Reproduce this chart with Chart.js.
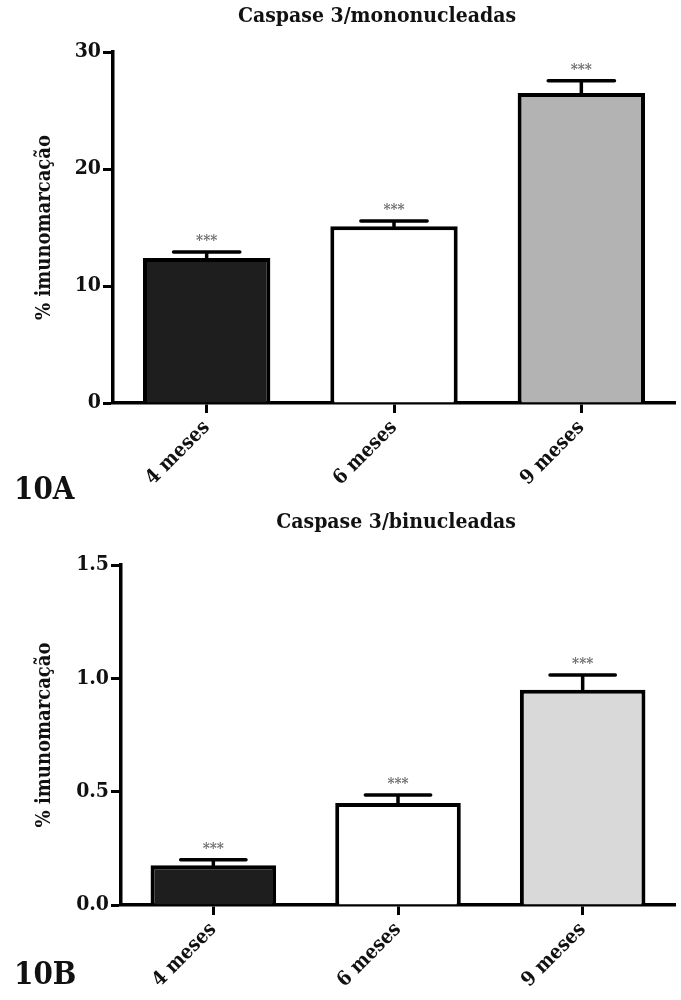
<!DOCTYPE html>
<html>
<head>
<meta charset="utf-8">
<script src="https://cdn.jsdelivr.net/npm/chart.js@4.4.1/dist/chart.umd.min.js"></script>
<style>
  body { margin: 0; background: #fff; }
  #page { position: relative; width: 681px; height: 1000px; font-family: "DejaVu Serif Condensed", "Liberation Serif", serif; font-weight: bold; color: #111; }
  .box { position: absolute; left: 0; width: 681px; height: 500px; }
  .titulo { position: absolute; width: 400px; text-align: center; font-size: 21px; white-space: nowrap; }
  .panel { position: absolute; font-size: 31px; }
</style>
</head>
<body>
<div id="page">
  <div class="box" style="top:0"><canvas id="chartA"></canvas></div>
  <div class="box" style="top:500px"><canvas id="chartB"></canvas></div>
  <div class="titulo" style="left:177px; top:2px">Caspase 3/mononucleadas</div>
  <div class="titulo" style="left:196px; top:508px">Caspase 3/binucleadas</div>
  <div class="panel" style="left:14px; top:470px">10A</div>
  <div class="panel" style="left:14px; top:955px">10B</div>
</div>
<script>
// datos
const categorias = ['4 meses', '6 meses', '9 meses'];
const mononucleadas = [12.4, 15.1, 26.5];
const errMono = [0.5, 0.45, 1.05];
const binucleadas = [0.175, 0.45, 0.95];
const errBi = [0.025, 0.035, 0.065];
const signif = ['***', '***', '***'];
const ticksA = [0, 10, 20, 30];
const ticksB = [0, 0.5, 1.0, 1.5];

const fuente = "'DejaVu Serif Condensed', 'Liberation Serif', serif";

// plugin para dibujar las barras de error y los asteriscos
const errorBars = {
  id: 'errorBars',
  afterDatasetsDraw(chart, args, opts) {
    const ctx = chart.ctx;
    const meta = chart.getDatasetMeta(0);
    const y = chart.scales.y;
    ctx.save();
    meta.data.forEach((bar, i) => {
      const v = chart.data.datasets[0].data[i];
      const top = y.getPixelForValue(v + opts.err[i]);
      const half = bar.width * 0.26;
      ctx.strokeStyle = '#000';
      ctx.lineWidth = 3.5;
      ctx.lineCap = 'round';
      ctx.beginPath();
      ctx.moveTo(bar.x, bar.y);
      ctx.lineTo(bar.x, top);
      ctx.moveTo(bar.x - half, top);
      ctx.lineTo(bar.x + half, top);
      ctx.stroke();
      ctx.fillStyle = '#6e6e6e';
      ctx.font = 'bold 15px ' + fuente;
      ctx.textAlign = 'center';
      ctx.textBaseline = 'bottom';
      ctx.fillText(signif[i], bar.x, top - 3);
    });
    ctx.restore();
  }
};

function opciones(ticks, err, izq, arriba, abajo, decimales) {
  return {
    responsive: true,
    maintainAspectRatio: false,
    animation: false,
    layout: { padding: { top: arriba, right: 6, left: 33, bottom: 0 } },
    plugins: {
      legend: { display: false },
      tooltip: { enabled: false },
      errorBars: { err: err }
    },
    scales: {
      x: {
        offset: true,
        grid: { display: true, drawOnChartArea: false, drawTicks: true, tickLength: 10, tickWidth: 3, tickColor: '#000', offset: false },
        border: { color: '#000', width: 3.5 },
        ticks: { color: '#111', font: { family: fuente, size: 20, weight: 'bold' }, minRotation: 45, maxRotation: 45, padding: 3 },
        afterFit: (s) => { s.height = abajo; }
      },
      y: {
        min: ticks[0],
        max: ticks[ticks.length - 1],
        afterBuildTicks: (s) => { s.ticks = ticks.map(v => ({ value: v })); },
        grid: { display: true, drawOnChartArea: false, drawTicks: true, tickLength: 10, tickWidth: 3, tickColor: '#000' },
        border: { color: '#000', width: 3.5 },
        ticks: { color: '#111', font: { family: fuente, size: 21, weight: 'bold' }, padding: 2, callback: (v) => v.toFixed(decimales) },
        title: { display: true, text: '% imunomarcação', color: '#111', font: { family: fuente, size: 20, weight: 'bold' }, padding: 0 },
        afterFit: (s) => { s.width = izq - 33; }
      }
    }
  };
}

new Chart(document.getElementById('chartA'), {
  type: 'bar',
  data: {
    labels: categorias,
    datasets: [{
      data: mononucleadas,
      backgroundColor: ['#1e1e1e', '#ffffff', '#b3b3b3'],
      borderColor: '#000',
      borderWidth: 4,
      barPercentage: 0.68,
      categoryPercentage: 1
    }]
  },
  options: opciones(ticksA, errMono, 113, 52, 97, 0),
  plugins: [errorBars]
});

new Chart(document.getElementById('chartB'), {
  type: 'bar',
  data: {
    labels: categorias,
    datasets: [{
      data: binucleadas,
      backgroundColor: ['#1e1e1e', '#ffffff', '#d9d9d9'],
      borderColor: '#000',
      borderWidth: 4,
      barPercentage: 0.68,
      categoryPercentage: 1
    }]
  },
  options: opciones(ticksB, errBi, 121, 65, 95, 1),
  plugins: [errorBars]
});
</script>
</body>
</html>
